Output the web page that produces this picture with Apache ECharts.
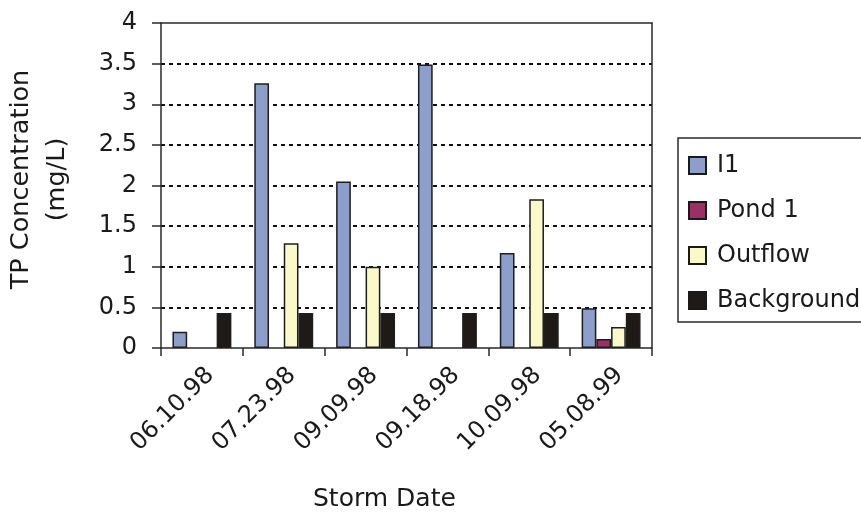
<!DOCTYPE html>
<html>
<head>
<meta charset="utf-8">
<script src="https://cdn.jsdelivr.net/npm/echarts@6/dist/echarts.min.js"></script>
<style>
  html, body { margin: 0; padding: 0; background: #fff; }
  #chart { width: 861px; height: 512px; }
</style>
</head>
<body>
<div id="chart"></div>
<script>
// Storm dates on the category axis
const stormDates = ['06.10.98', '07.23.98', '09.09.98', '09.18.98', '10.09.98', '05.08.99'];

// TP concentration (mg/L) per sampling location; null = not sampled
const i1Values         = [0.20, 3.26, 2.05, 3.49, 1.17, 0.49];
const pond1Values      = [null, null, null, null, null, 0.11];
const outflowValues    = [null, 1.29, 1.00, null, 1.83, 0.26];
const backgroundValues = [0.43, 0.43, 0.43, 0.43, 0.43, 0.43];

const yTicks = [0, 0.5, 1, 1.5, 2, 2.5, 3, 3.5, 4];

const FONT = 'DejaVu Sans';
const TEXT = '#1a1a1a';
const FRAME = '#2a2a2a';

const seriesDefs = [
  { name: 'I1',         data: i1Values,         color: '#8e9ecb' },
  { name: 'Pond 1',     data: pond1Values,      color: '#9c2f64' },
  { name: 'Outflow',    data: outflowValues,    color: '#fbf8c9' },
  { name: 'Background', data: backgroundValues, color: '#1f1a17' }
];

const chart = echarts.init(document.getElementById('chart'), null, { renderer: 'canvas' });

// bare axis lines that close the plot frame on top and right
const frameX = {
  type: 'category', data: stormDates, position: 'top',
  axisLine: { show: true, onZero: false, lineStyle: { color: FRAME, width: 1.5 } },
  axisTick: { show: false }, axisLabel: { show: false }, splitLine: { show: false }
};
const frameY = {
  type: 'value', min: 0, max: 4, interval: 0.5, position: 'right',
  axisLine: { show: true, onZero: false, lineStyle: { color: FRAME, width: 1.5 } },
  axisTick: { show: false }, axisLabel: { show: false }, splitLine: { show: false }
};

chart.setOption({
  animation: false,
  backgroundColor: '#fff',
  grid: { left: 161, right: 209, top: 23, bottom: 164, containLabel: false, outerBoundsMode: 'none' },
  legend: {
    orient: 'vertical',
    left: 678, top: 138,
    padding: [15, 10, 9, 10],
    itemWidth: 17, itemHeight: 17, itemGap: 20,
    borderColor: FRAME, borderWidth: 1.5,
    icon: 'rect',
    itemStyle: { borderColor: '#1a1a1a', borderWidth: 2 },
    textStyle: { fontFamily: FONT, fontSize: 24, color: TEXT, lineHeight: 25, padding: [0, 0, 0, 6] },
    data: seriesDefs.map(s => s.name)
  },
  xAxis: [{
    type: 'category',
    data: stormDates,
    axisLine: { lineStyle: { color: FRAME, width: 1.5 } },
    axisTick: { show: true, length: 8, interval: 0, lineStyle: { color: FRAME, width: 1.5 } },
    axisLabel: {
      interval: 0, rotate: 45, margin: 15, verticalAlign: 'top',
      fontFamily: FONT, fontSize: 24, color: TEXT
    },
    splitLine: { show: false }
  }, frameX],
  yAxis: [{
    type: 'value',
    min: 0, max: 4, interval: 0.5,
    name: 'TP Concentration\n(mg/L)',
    nameLocation: 'middle',
    nameGap: 86,
    nameTextStyle: {
      fontFamily: FONT, fontSize: 25.5, color: TEXT, lineHeight: 36, align: 'center',
      padding: [0, 0, 0, 12]
    },
    axisLine: { show: true, lineStyle: { color: FRAME, width: 1.5 } },
    axisTick: { show: true, length: 9, lineStyle: { color: FRAME, width: 1.5 } },
    axisLabel: {
      margin: 24, fontFamily: FONT, fontSize: 24, color: TEXT,
      formatter: v => (yTicks.indexOf(v) >= 0 ? String(v) : '')
    },
    splitLine: {
      show: true, showMinLine: false, showMaxLine: false,
      lineStyle: { color: '#111', width: 2, type: [4, 4] }
    }
  }, frameY],
  graphic: [{
    type: 'text',
    left: 313, top: 487,
    style: { text: 'Storm Date', fontFamily: FONT, fontSize: 25, fill: TEXT }
  }],
  series: seriesDefs.map(s => ({
    name: s.name,
    type: 'bar',
    data: s.data,
    barGap: '0%',
    barCategoryGap: '28%',
    itemStyle: { color: s.color, borderColor: '#1e1e1e', borderWidth: 1.5 }
  }))
});
</script>
</body>
</html>
